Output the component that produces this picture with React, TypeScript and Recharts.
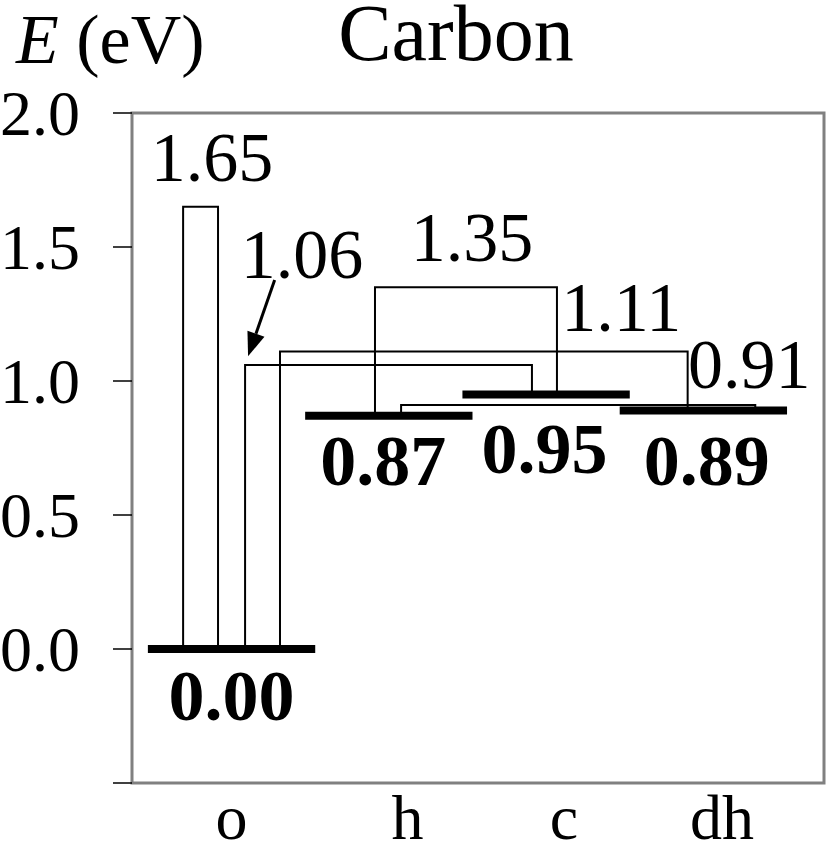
import { ComposedChart, Line, Scatter, XAxis, YAxis, ReferenceArea, ReferenceLine } from "recharts";

// site energies (eV) and hopping barriers between sites
const categories = ["o", "h", "c", "dh"];
const levelEnergy = [0.0, 0.87, 0.95, 0.89];

const barrierEnergy = [1.65, 1.06, 1.11, 1.35, 0.91];
const barrierFrom = [0, 0, 0, 1, 1];
const barrierTo = [0, 2, 3, 2, 3];

const yTicks = [-0.5, 0, 0.5, 1.0, 1.5, 2.0];
const yTickLabels = ["", "0.0", "0.5", "1.0", "1.5", "2.0"];

// layout (x in category units, offsets in px)
const X_MIN = -0.633;
const X_MAX = 3.767;
const HALF = 0.532;
const X_TICK_POS = [0, 1.119, 2.113, 3.118];
const FEET: [number, number][] = [
	[-0.308, -0.086],
	[0.086, -0.09],
	[0.308, -0.1],
	[-0.088, 0.069],
	[0.078, 0.33],
];
const BARRIER_LABEL_OFFSET: [number, number][] = [
	[11.5, -26],
	[-86.5, -87],
	[137.5, -21],
	[6, -26],
	[171, -17],
];
const LEVEL_LABEL_OFFSET: [number, number][] = [
	[0, 71],
	[-5.5, 69],
	[-1.5, 79],
	[3.5, 74.5],
];
const ARROW = [
	{ x: 0.274, y: 1.377 },
	{ x: 0.105, y: 1.092 },
];

const FONT = '"Liberation Serif", "Times New Roman", serif';

function levelPoints(i: number) {
	return [
		{ x: i - HALF, y: levelEnergy[i] },
		{ x: i + HALF, y: levelEnergy[i] },
	];
}

function barrierPoints(k: number) {
	const a = barrierFrom[k] + FEET[k][0];
	const b = barrierTo[k] + FEET[k][1];
	const e = barrierEnergy[k];
	return [
		{ x: a, y: levelEnergy[barrierFrom[k]] },
		{ x: a, y: e },
		{ x: b, y: e },
		{ x: b, y: levelEnergy[barrierTo[k]] },
	];
}

const labelData = [
	...barrierEnergy.map((e, k) => {
		const a = barrierFrom[k] + FEET[k][0];
		const b = barrierTo[k] + FEET[k][1];
		return { x: (a + b) / 2, y: e, text: e.toFixed(2), bold: false, dx: BARRIER_LABEL_OFFSET[k][0], dy: BARRIER_LABEL_OFFSET[k][1] };
	}),
	...levelEnergy.map((e, i) => ({
		x: i,
		y: e,
		text: e.toFixed(2),
		bold: true,
		dx: LEVEL_LABEL_OFFSET[i][0],
		dy: LEVEL_LABEL_OFFSET[i][1],
	})),
];

const renderLabel = (props: any) => {
	const { cx, cy, payload } = props;
	return (
		<text
			x={cx + payload.dx}
			y={cy + payload.dy}
			textAnchor="middle"
			fontFamily={FONT}
			fontSize={payload.bold ? 72 : 70}
			fontWeight={payload.bold ? "bold" : "normal"}
			fill="#000"
		>
			{payload.text}
		</text>
	);
};

const renderXTick = (props: any) => {
	const idx = X_TICK_POS.indexOf(props.payload.value);
	return (
		<text x={props.x} y={props.y} dy={56} textAnchor="middle" fontFamily={FONT} fontSize={64} fill="#000">
			{categories[idx]}
		</text>
	);
};

const renderYTick = (props: any) => {
	const idx = yTicks.indexOf(props.payload.value);
	return (
		<text x={props.x} y={props.y} dy={22} textAnchor="end" fontFamily={FONT} fontSize={64} fill="#000">
			{yTickLabels[idx]}
		</text>
	);
};

const renderArrow = (p: any) => {
	const { x1, y1, x2, y2 } = p;
	const ang = Math.atan2(y2 - y1, x2 - x1);
	const L = 24;
	const W = 9;
	const bx = x2 - L * Math.cos(ang);
	const by = y2 - L * Math.sin(ang);
	const px = -Math.sin(ang) * W;
	const py = Math.cos(ang) * W;
	return (
		<g>
			<line x1={x1} y1={y1} x2={bx} y2={by} stroke="#000" strokeWidth={3} />
			<polygon points={`${x2},${y2} ${bx + px},${by + py} ${bx - px},${by - py}`} fill="#000" />
		</g>
	);
};

export default function App() {
	return (
		<div style={{ position: "absolute", left: 0, top: 0, width: 829, height: 852, background: "#fff" }}>
			<ComposedChart width={829} height={852} margin={{ top: 113, right: 5, bottom: 0, left: 0 }}>
				<XAxis
					type="number"
					dataKey="x"
					domain={[X_MIN, X_MAX]}
					ticks={X_TICK_POS}
					interval={0}
					allowDataOverflow
					height={69}
					axisLine={false}
					tickLine={false}
					tickSize={0}
					tickMargin={0}
					tick={renderXTick}
				/>
				<YAxis
					type="number"
					dataKey="y"
					domain={[-0.5, 2]}
					ticks={yTicks}
					interval={0}
					allowDataOverflow
					width={132}
					axisLine={false}
					tickLine={{ stroke: "#000", strokeWidth: 1.5 }}
					tickSize={19}
					tickMargin={33}
					tick={renderYTick}
				/>
				<ReferenceArea
					x1={X_MIN}
					x2={X_MAX}
					y1={-0.5}
					y2={2}
					ifOverflow="visible"
					fill="none"
					stroke="#808080"
					strokeWidth={3}
				/>
				{barrierEnergy.map((_, k) => (
					<Line
						key={`b${k}`}
						data={barrierPoints(k)}
						dataKey="y"
						type="linear"
						stroke="#000"
						strokeWidth={2}
						dot={false}
						activeDot={false}
						isAnimationActive={false}
					/>
				))}
				{levelEnergy.map((_, i) => (
					<Line
						key={`l${i}`}
						data={levelPoints(i)}
						dataKey="y"
						type="linear"
						stroke="#000"
						strokeWidth={8}
						dot={false}
						activeDot={false}
						isAnimationActive={false}
					/>
				))}
				<ReferenceLine segment={ARROW} ifOverflow="visible" shape={renderArrow} />
				<Scatter data={labelData} dataKey="y" shape={renderLabel} isAnimationActive={false} />
			</ComposedChart>
			<svg width={829} height={852} style={{ position: "absolute", left: 0, top: 0, pointerEvents: "none" }}>
				<text x={16} y={63} fontFamily={FONT} fontSize={70} fill="#000">
					<tspan fontStyle="italic">E</tspan> (eV)
				</text>
				<text x={456} y={60} textAnchor="middle" fontFamily={FONT} fontSize={80} fill="#000">
					Carbon
				</text>
			</svg>
		</div>
	);
}
